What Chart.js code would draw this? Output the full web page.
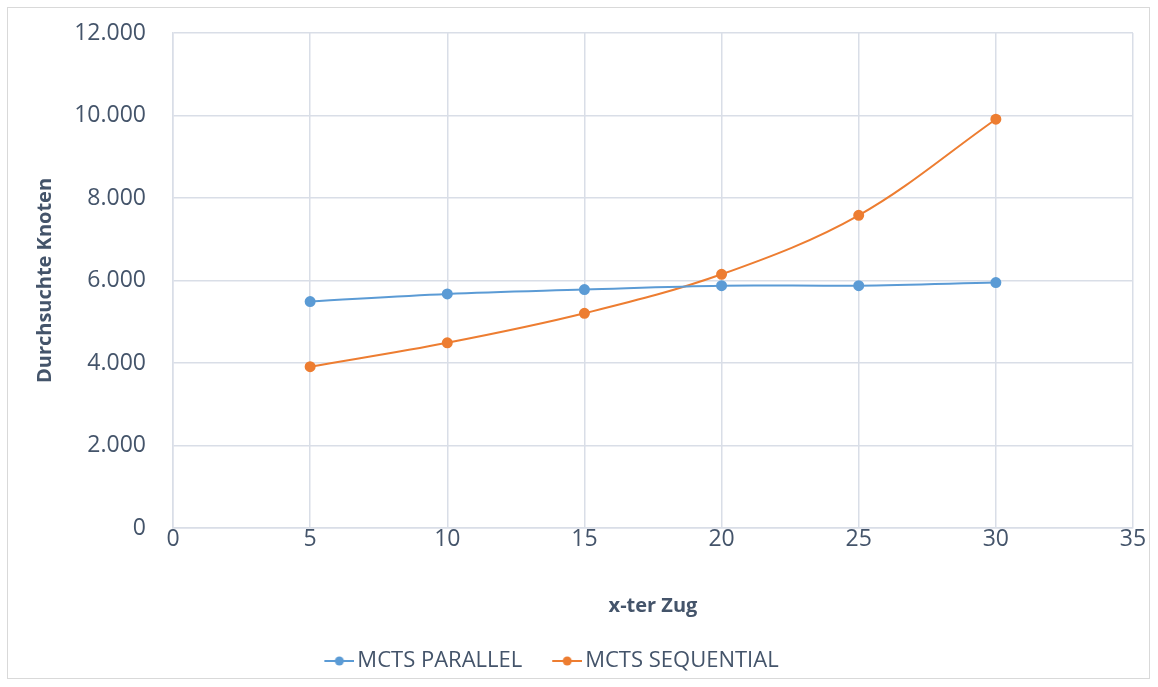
<!DOCTYPE html>
<html>
<head>
<meta charset="utf-8">
<script src="https://cdn.jsdelivr.net/npm/chart.js@4"></script>
<style>
  html, body { margin: 0; padding: 0; background: #fff; }
  #wrap { position: relative; width: 1158px; height: 687px; }
  #frame { position: absolute; left: 7px; top: 7px; width: 1143px; height: 672px; border: 1px solid #d9d9d9; box-sizing: border-box; }
  #chart { position: absolute; left: 0; top: 0; }
</style>
</head>
<body>
<div id="wrap">
  <div id="frame"></div>
  <canvas id="chart" width="1158" height="687"></canvas>
</div>
<script>
const moves = [5, 10, 15, 20, 25, 30];
const parallelNodes = [5490, 5675, 5780, 5875, 5875, 5950];
const sequentialNodes = [3910, 4490, 5205, 6150, 7580, 9910];
const seriesNames = ["MCTS PARALLEL", "MCTS SEQUENTIAL"];
const seriesColors = ["#5B9BD5", "#ED7D31"];
const xTitle = "x-ter Zug";
const yTitle = "Durchsuchte Knoten";

const textColor = "#44546A";
const gridColor = "#D9DEE7";
const font = "'Open Sans', 'Liberation Sans', sans-serif";

// legend marker: short line with a dot, pushed right so the text sits close to it
function legendMarker(color) {
  const c = document.createElement('canvas'); c.width = 38; c.height = 12;
  const g = c.getContext('2d');
  g.strokeStyle = color; g.lineWidth = 2;
  g.beginPath(); g.moveTo(8, 6); g.lineTo(38, 6); g.stroke();
  g.fillStyle = color; g.beginPath(); g.arc(23, 6, 4.5, 0, Math.PI * 2); g.fill();
  return c;
}
const markers = seriesColors.map(legendMarker);

const toPts = vals => moves.map((m, i) => ({ x: m, y: vals[i] }));

const data = {
  datasets: [parallelNodes, sequentialNodes].map((vals, i) => ({
    label: seriesNames[i], data: toPts(vals),
    borderColor: seriesColors[i], backgroundColor: seriesColors[i],
    borderWidth: 2, pointRadius: 4.5, pointHoverRadius: 5, tension: 0.35
  }))
};

// nudge the legend left like in the original
const legendShift = {
  id: 'legendShift',
  afterLayout(chart) { const l = chart.legend; if (l) { l.left -= 25; l.right -= 25; } }
};

new Chart(document.getElementById('chart').getContext('2d'), {
  type: 'line',
  data,
  plugins: [legendShift],
  options: {
    responsive: false, animation: false,
    layout: { padding: { top: 33, right: 25, left: 20, bottom: 5 } },
    plugins: {
      tooltip: { enabled: false },
      legend: {
        position: 'bottom',
        labels: {
          color: textColor, font: { family: font, size: 22 },
          usePointStyle: true, pointStyleWidth: 22, boxHeight: 12, padding: 30,
          generateLabels: chart => Chart.defaults.plugins.legend.labels.generateLabels(chart).map((l, i) => ({ ...l, pointStyle: markers[i] }))
        }
      }
    },
    scales: {
      x: {
        type: 'linear', min: 0, max: 35,
        afterFit: s => { s.height = 92; },
        ticks: { stepSize: 5, color: textColor, font: { family: font, size: 23 }, padding: -2 },
        grid: { color: gridColor, lineWidth: 1.5, drawTicks: false },
        border: { color: gridColor, width: 1.5 },
        title: { display: true, text: xTitle, color: textColor, font: { family: font, size: 20, weight: 'bold' }, padding: { top: 30, bottom: 2 } }
      },
      y: {
        min: 0, max: 12000,
        // fixed width; tick padding would otherwise also push the plot down
        afterFit: s => { s.width = 153; s.paddingTop = 14; s.paddingBottom = 14; },
        ticks: {
          stepSize: 2000, color: textColor, font: { family: font, size: 23 }, padding: 27,
          callback: v => String(v).replace(/\B(?=(\d{3})+(?!\d))/g, '.')
        },
        grid: { color: gridColor, lineWidth: 1.5, drawTicks: false },
        border: { color: gridColor, width: 1.5 },
        title: { display: true, text: yTitle, color: textColor, font: { family: font, size: 20, weight: 'bold' }, padding: { top: 13, bottom: 13 } }
      }
    }
  }
});
</script>
</body>
</html>
